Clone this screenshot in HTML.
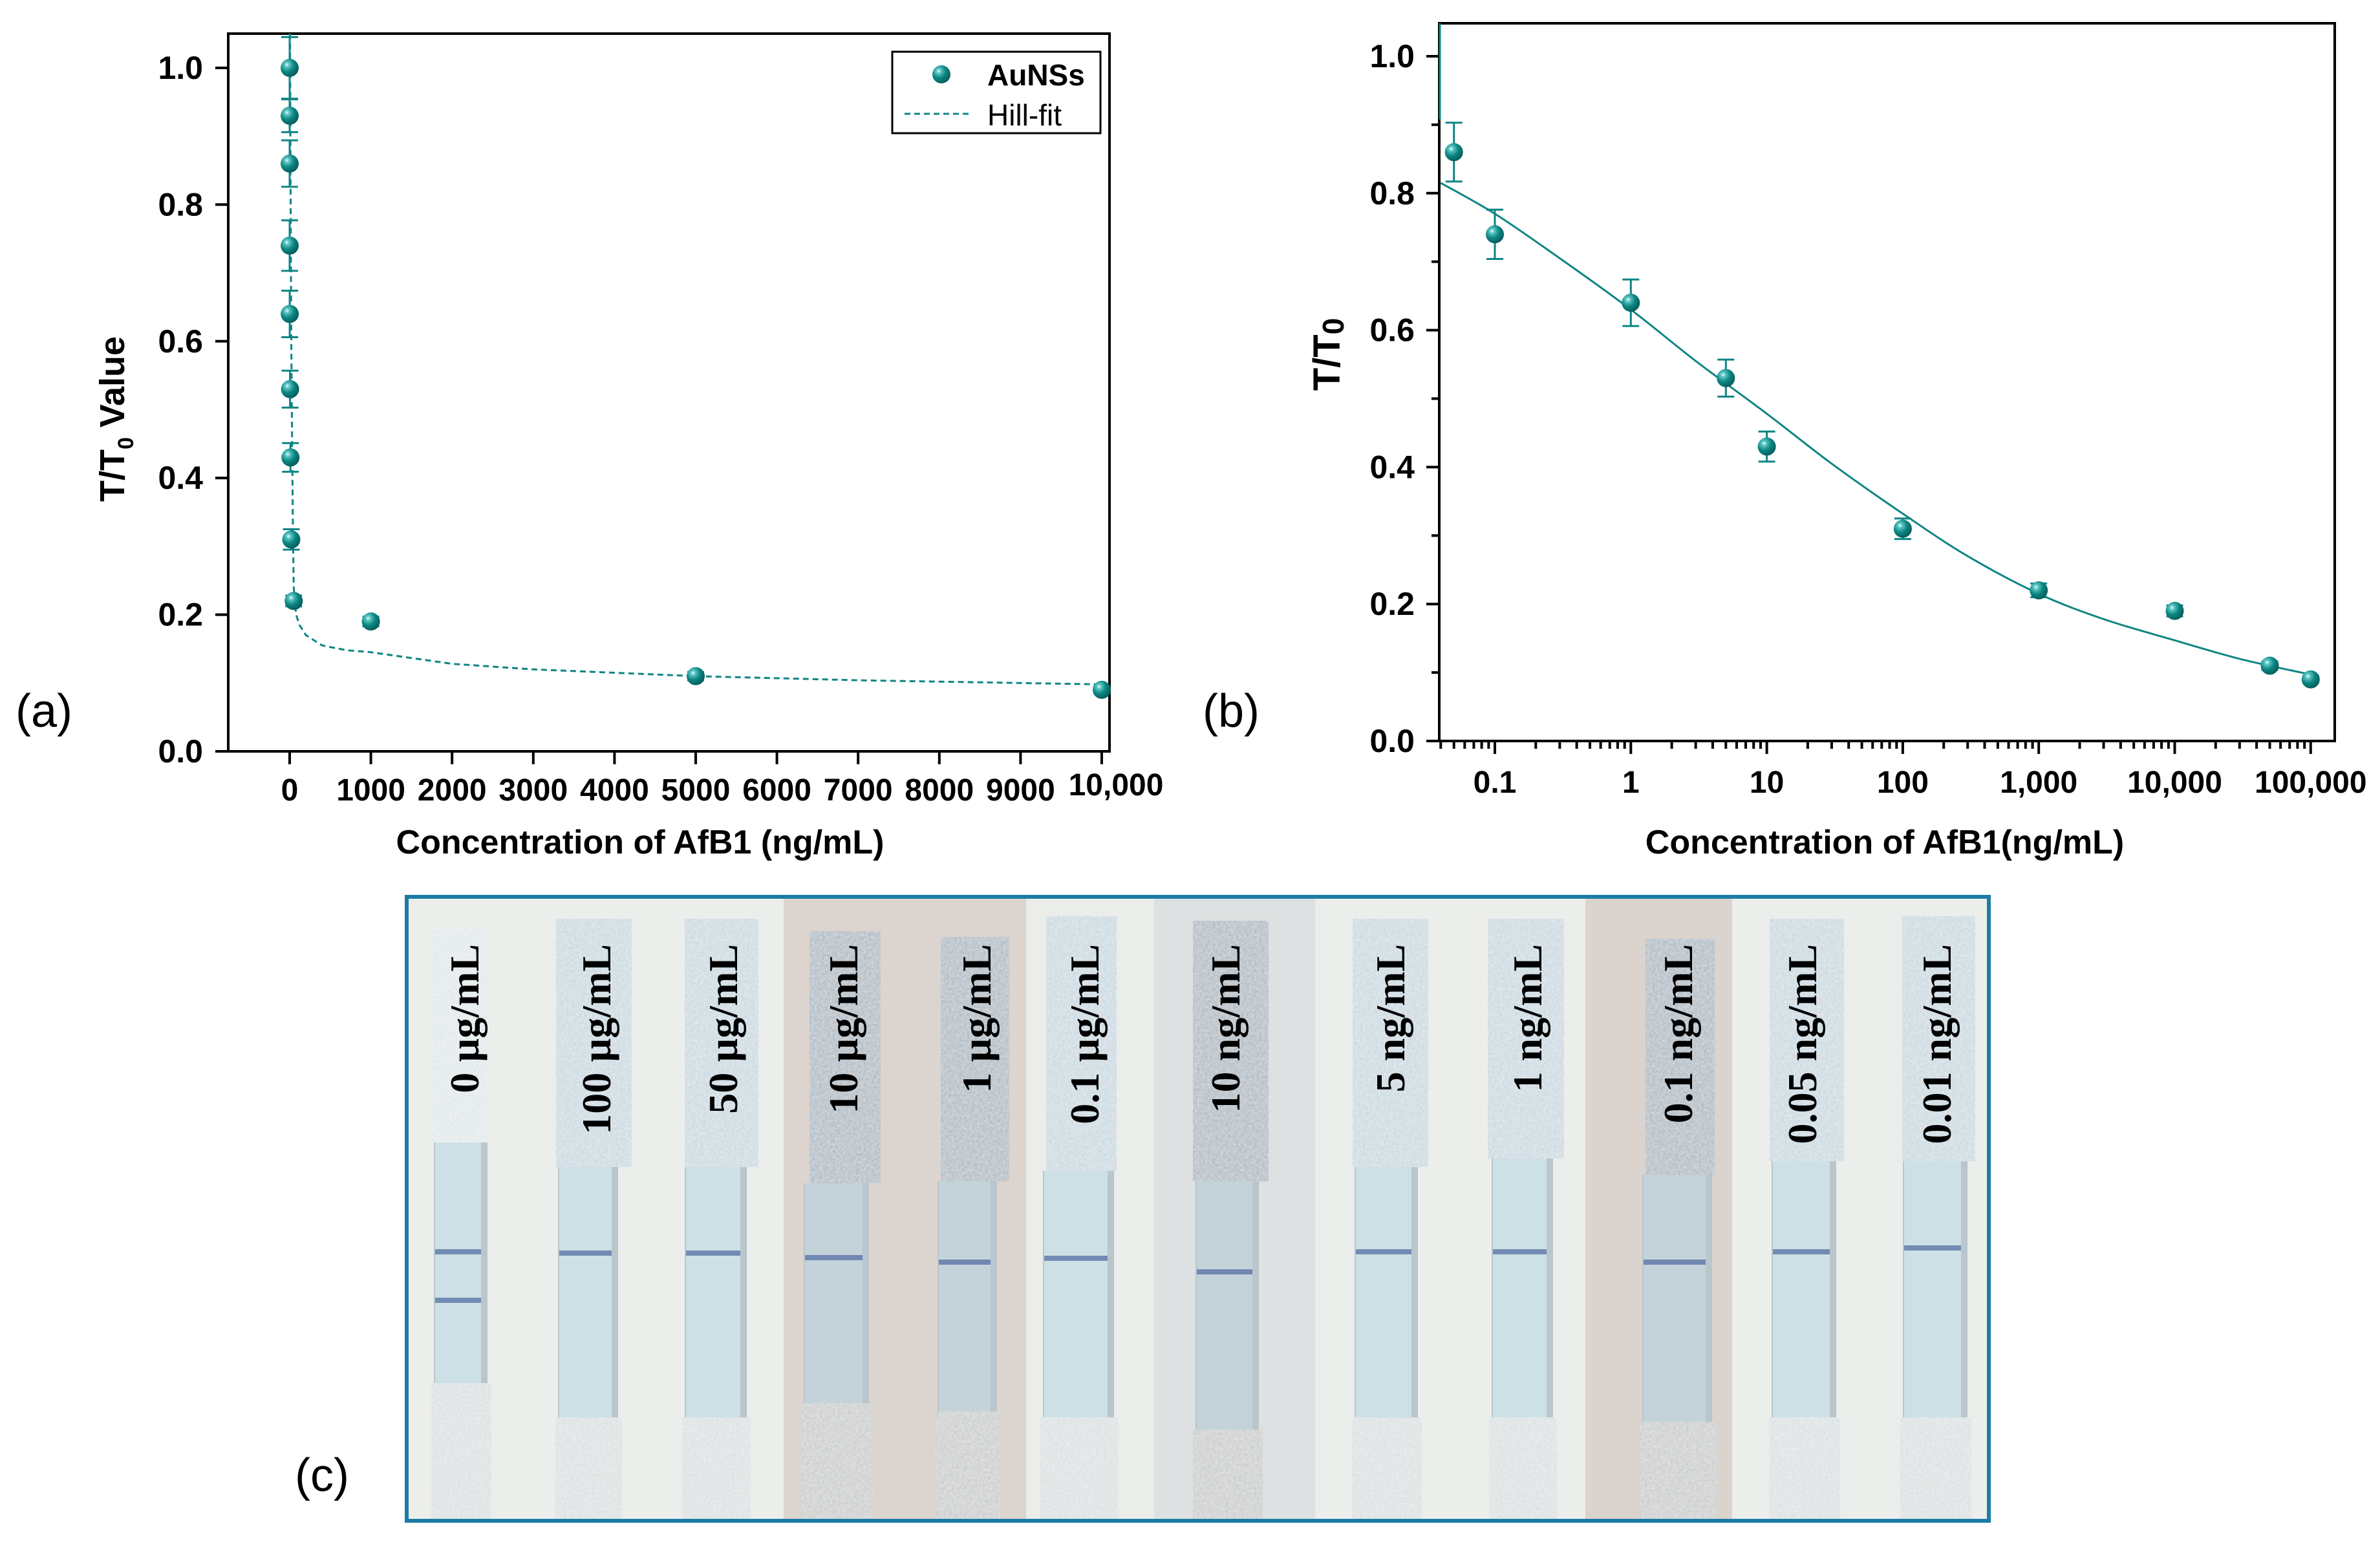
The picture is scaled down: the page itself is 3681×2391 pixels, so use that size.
<!DOCTYPE html>
<html><head><meta charset="utf-8"><style>
html,body{margin:0;padding:0;background:#fff;}
svg{display:block;}
text{font-family:"Liberation Sans",sans-serif;}
.serif{font-family:"Liberation Serif",serif;font-weight:bold;}
</style></head><body>
<svg id="fig" width="3681" height="2391" viewBox="0 0 3681 2391" xmlns="http://www.w3.org/2000/svg">
<defs>
<radialGradient id="ball" cx="0.35" cy="0.32" r="0.7">
<stop offset="0" stop-color="#e8ffff"/><stop offset="0.18" stop-color="#5cc6c4"/><stop offset="0.55" stop-color="#0d8683"/><stop offset="1" stop-color="#055d5b"/>
</radialGradient>
<filter id="tex" x="0" y="0" width="1" height="1">
<feTurbulence type="fractalNoise" baseFrequency="0.25" numOctaves="2" result="n"/>
<feColorMatrix in="n" type="matrix" values="0 0 0 0 1  0 0 0 0 1  0 0 0 0 1  0 0 0 0.5 0" result="w"/>
<feComposite in="w" in2="SourceGraphic" operator="in" result="wn"/>
<feBlend in="SourceGraphic" in2="wn" mode="screen"/>
</filter>
</defs>
<g id="panelA"></g>
<g id="panelB"></g>
<g id="panelC"></g>
</svg>
<script>
// ---------- Panel (a) data ----------
const concA = [0, 0.01, 0.05, 0.1, 1, 5, 10, 20, 50, 1000, 5000, 10000];
const ratioA = [1.0, 0.93, 0.86, 0.74, 0.64, 0.53, 0.43, 0.31, 0.22, 0.19, 0.11, 0.09];
const errA = [0.045, 0.024, 0.034, 0.037, 0.034, 0.027, 0.021, 0.015, 0.008, 0.007, 0.006, 0.005];
const fitAx = [5, 10, 20, 30, 40, 50, 80, 120, 200, 400, 700, 1000, 2000, 3000, 5000, 7000, 10000];
const fitAy = [1.05, 0.85, 0.6, 0.45, 0.33, 0.24, 0.2, 0.185, 0.17, 0.155, 0.148, 0.145, 0.128, 0.12, 0.11, 0.104, 0.098];
const xTicksA = [0, 1000, 2000, 3000, 4000, 5000, 6000, 7000, 8000, 9000, 10000];
const xTickLabelsA = ["0", "1000", "2000", "3000", "4000", "5000", "6000", "7000", "8000", "9000", "10,000"];
const yTicks = [0, 0.2, 0.4, 0.6, 0.8, 1.0];
const yTickLabels = ["0.0", "0.2", "0.4", "0.6", "0.8", "1.0"];
// ---------- Panel (b) data ----------
const concB = [0.05, 0.1, 1, 5, 10, 100, 1000, 10000, 50000, 100000];
const ratioB = [0.86, 0.74, 0.64, 0.53, 0.43, 0.31, 0.22, 0.19, 0.11, 0.09];
const errB = [0.043, 0.036, 0.034, 0.027, 0.022, 0.015, 0.01, 0.008, 0.006, 0.005];
const fitBx = [0.04, 0.1, 0.3, 1, 3, 10, 30, 100, 300, 1000, 3000, 10000, 30000, 100000];
const fitBy = [0.815, 0.77, 0.705, 0.63, 0.555, 0.478, 0.405, 0.332, 0.27, 0.215, 0.178, 0.147, 0.12, 0.097];
const xTicksB = [0.1, 1, 10, 100, 1000, 10000, 100000];
const xTickLabelsB = ["0.1", "1", "10", "100", "1,000", "10,000", "100,000"];
// ---------- Panel (c) labels ----------
const stripLabels = ["0 µg/mL","100 µg/mL","50 µg/mL","10 µg/mL","1 µg/mL","0.1 µg/mL","10 ng/mL","5 ng/mL","1 ng/mL","0.1 ng/mL","0.05 ng/mL","0.01 ng/mL"];

const NS = "http://www.w3.org/2000/svg";
function mk(parent, tag, attrs, txt){
  const e = document.createElementNS(NS, tag);
  for (const k in attrs) e.setAttribute(k, attrs[k]);
  if (txt !== undefined) e.textContent = txt;
  parent.appendChild(e);
  return e;
}
const TEAL = "#0e8584";

// ================= PANEL A =================
(function(){
  const g = document.getElementById('panelA');
  const L = 353, R = 1716, T = 52, B = 1162;
  const x0px = 448, x1px = 1704;
  const sx = v => x0px + (v / 10000) * (x1px - x0px);
  const sy = v => 1162 - v * 1057;
  yTicks.forEach((v, i) => {
    const t = mk(g, 'line', {x1: L - 20, x2: L, y1: sy(v), y2: sy(v), stroke: '#000', 'stroke-width': 4});
    
    
    const lb = mk(g, 'text', {x: 314, y: sy(v) + 17, 'text-anchor': 'end', 'font-size': 50, 'font-weight': 'bold'}, yTickLabels[i]);
    
    
  });
  xTicksA.forEach((v, i) => {
    const t = mk(g, 'line', {x1: sx(v), x2: sx(v), y1: B, y2: B + 20, stroke: '#000', 'stroke-width': 4});
    
    
    const lb = mk(g, 'text', {x: sx(v) + (i === 10 ? 22 : 0), y: 1238 - (i === 10 ? 8 : 0), 'text-anchor': 'middle', 'font-size': 48, 'font-weight': 'bold'}, xTickLabelsA[i]);
    
    
  });
  const fr = mk(g, 'rect', {x: L, y: T, width: R - L, height: B - T, fill: 'none', stroke: '#000', 'stroke-width': 4});
  
  
  let d = '';
  fitAx.forEach((v, i) => { d += (i ? 'L' : 'M') + sx(v).toFixed(1) + ' ' + sy(fitAy[i]).toFixed(1) + ' '; });
  const fit = mk(g, 'path', {d: d, fill: 'none', stroke: TEAL, 'stroke-width': 3, 'stroke-dasharray': '9 6'});
  
  
  const vl = mk(g, 'line', {x1: sx(0), x2: sx(0), y1: T, y2: sy(ratioA[0]), stroke: TEAL, 'stroke-width': 3});
  
  
  ratioA.forEach((v, i) => {
    const cx = sx(concA[i]);
    const e = errA[i];
    const eb = mk(g, 'path', {d: `M${cx} ${sy(v+e)}V${sy(v-e)}M${cx-13} ${sy(v+e)}h26M${cx-13} ${sy(v-e)}h26`, stroke: TEAL, 'stroke-width': 3, fill: 'none'});
    
    
    const c = mk(g, 'ellipse', {cx: cx, cy: sy(v), rx: 14, ry: 14, fill: 'url(#ball)'});
    
    
  });
  const lg = mk(g, 'g', {});
  
  
  mk(lg, 'rect', {x: 1380, y: 80, width: 322, height: 126, fill: '#fff', stroke: '#000', 'stroke-width': 3});
  const lm = mk(lg, 'ellipse', {cx: 1456, cy: 115, rx: 14, ry: 14, fill: 'url(#ball)'});
  
  
  const lt1 = mk(lg, 'text', {x: 1527, y: 132, 'font-size': 46, 'font-weight': 'bold'}, 'AuNSs');
  
  
  const ll = mk(lg, 'line', {x1: 1399, x2: 1504, y1: 176, y2: 176, stroke: TEAL, 'stroke-width': 3, 'stroke-dasharray': '9 6'});
  
  
  const lt2 = mk(lg, 'text', {x: 1527, y: 194, 'font-size': 46}, 'Hill-fit');
  
  
  const xt = mk(g, 'text', {x: 990, y: 1320, 'text-anchor': 'middle', 'font-size': 52, 'font-weight': 'bold'}, 'Concentration of AfB1 (ng/mL)');
  
  
  const yt = mk(g, 'text', {transform: 'translate(192 648) rotate(-90)', 'text-anchor': 'middle', 'font-size': 54, 'font-weight': 'bold'});
  
  
  mk(yt, 'tspan', {}, 'T/T');
  mk(yt, 'tspan', {'font-size': 34, dy: 14}, '0');
  mk(yt, 'tspan', {dy: -14}, ' Value');
  const pl = mk(g, 'text', {x: 24, y: 1124, 'font-size': 72}, '(a)');
  
  
})();

// ================= PANEL B =================
(function(){
  const g = document.getElementById('panelB');
  const L = 2226, R = 3611, T = 36, B = 1146;
  const dec = 210.3, x01 = 2312;
  const sx = v => x01 + (Math.log10(v) + 1) * dec;
  const sy = v => 1146 - v * 1059;
  for (let k = 0; k <= 10; k++) {
    const v = k / 10, major = k % 2 === 0;
    const t = mk(g, 'line', {x1: L - (major ? 20 : 12), x2: L, y1: sy(v), y2: sy(v), stroke: '#000', 'stroke-width': 4});
    
    
  }
  yTicks.forEach((v, i) => {
    const lb = mk(g, 'text', {x: 2188, y: sy(v) + 17, 'text-anchor': 'end', 'font-size': 50, 'font-weight': 'bold'}, yTickLabels[i]);
    
    
  });
  for (let e = -2; e <= 5; e++) {
    for (let m = 1; m <= 9; m++) {
      const v = m * Math.pow(10, e);
      const px = sx(v);
      if (px < L || px > R) continue;
      const t = mk(g, 'line', {x1: px, x2: px, y1: B, y2: B + (m === 1 ? 20 : 12), stroke: '#000', 'stroke-width': 4});
      
      
    }
  }
  xTicksB.forEach((v, i) => {
    const lb = mk(g, 'text', {x: sx(v), y: 1226, 'text-anchor': 'middle', 'font-size': 48, 'font-weight': 'bold'}, xTickLabelsB[i]);
    
    
  });
  const fr = mk(g, 'rect', {x: L, y: T, width: R - L, height: B - T, fill: 'none', stroke: '#000', 'stroke-width': 4});
  
  
  const vl = mk(g, 'line', {x1: L + 1, x2: L + 1, y1: T, y2: 185, stroke: TEAL, 'stroke-width': 3});
  
  
  const P = fitBx.map((v, i) => [sx(v), sy(fitBy[i])]);
  let d = `M${P[0][0].toFixed(1)} ${P[0][1].toFixed(1)}`;
  for (let i = 0; i < P.length - 1; i++) {
    const p0 = P[Math.max(0, i - 1)], p1 = P[i], p2 = P[i + 1], p3 = P[Math.min(P.length - 1, i + 2)];
    const c1 = [p1[0] + (p2[0] - p0[0]) / 6, p1[1] + (p2[1] - p0[1]) / 6];
    const c2 = [p2[0] - (p3[0] - p1[0]) / 6, p2[1] - (p3[1] - p1[1]) / 6];
    d += ` C${c1[0].toFixed(1)} ${c1[1].toFixed(1)} ${c2[0].toFixed(1)} ${c2[1].toFixed(1)} ${p2[0].toFixed(1)} ${p2[1].toFixed(1)}`;
  }
  const fit = mk(g, 'path', {d: d, fill: 'none', stroke: TEAL, 'stroke-width': 3});
  
  
  ratioB.forEach((v, i) => {
    const cx = sx(concB[i]);
    const e = errB[i];
    const eb = mk(g, 'path', {d: `M${cx} ${sy(v+e)}V${sy(v-e)}M${cx-13} ${sy(v+e)}h26M${cx-13} ${sy(v-e)}h26`, stroke: TEAL, 'stroke-width': 3, fill: 'none'});
    
    
    const c = mk(g, 'ellipse', {cx: cx, cy: sy(v), rx: 14, ry: 14, fill: 'url(#ball)'});
    
    
  });
  const xt = mk(g, 'text', {x: 2915, y: 1320, 'text-anchor': 'middle', 'font-size': 52, 'font-weight': 'bold'}, 'Concentration of AfB1(ng/mL)');
  
  
  const yt = mk(g, 'text', {transform: 'translate(2072 548) rotate(-90)', 'text-anchor': 'middle', 'font-size': 58, 'font-weight': 'bold'});
  
  
  mk(yt, 'tspan', {}, 'T/T');
  mk(yt, 'tspan', {'font-size': 46, dy: 6}, '0');
  const pl = mk(g, 'text', {x: 1860, y: 1124, 'font-size': 72}, '(b)');
  
  
})();

// ================= PANEL C =================
(function(){
  const g = document.getElementById('panelC');
  const bgs = [[629,1212,'#eceeec'],[1212,1587,'#dcd4ce'],[1587,1785,'#ebedeb'],[1785,2034,'#dde1e1'],[2034,2452,'#eceeec'],[2452,2679,'#dbd3cd'],[2679,3076,'#eceeec']];
  bgs.forEach(b => {
    const r = mk(g, 'rect', {x: b[0], y: 1386, width: b[1] - b[0], height: 966, fill: b[2]});
    
    
  });
  const geo = [
    [668,753,1436,1767,673,744,2139,1936,0,717],
    [860,977,1421,1805,865,946,2192,1938,0,921],
    [1059,1173,1421,1805,1061,1145,2192,1938,0,1117],
    [1252,1362,1440,1830,1245,1334,2170,1945,1,1303],
    [1455,1561,1449,1827,1452,1532,2183,1952,1,1509],
    [1618,1727,1417,1811,1615,1713,2192,1946,0,1676],
    [1845,1962,1424,1827,1851,1937,2211,1967,1,1894],
    [2092,2209,1421,1805,2097,2183,2192,1936,0,2149],
    [2301,2419,1421,1792,2309,2392,2192,1936,0,2361],
    [2545,2652,1452,1817,2542,2638,2199,1952,1,2594],
    [2737,2852,1421,1796,2742,2830,2192,1936,0,2786],
    [2942,3055,1417,1796,2945,3033,2192,1930,0,2994]
  ];
  geo.forEach((s, i) => {
    const sg = mk(g, 'g', {});
    
    
    mk(sg, 'rect', {x: s[4] - 2, y: s[3], width: s[5] - s[4] + 12, height: s[6] - s[3], fill: '#b9c6cb'});
    mk(sg, 'rect', {x: s[4], y: s[3], width: s[5] - s[4], height: s[6] - s[3], fill: s[8] ? '#c4d3da' : '#cde0e6'});
    mk(sg, 'rect', {x: s[4] - 6, y: s[6], width: s[5] - s[4] + 22, height: 2352 - s[6], fill: s[8] ? '#c6c8c8' : '#d8dedf', filter: 'url(#tex)'});
    mk(sg, 'rect', {x: s[0], y: s[2], width: s[1] - s[0], height: s[3] - s[2], fill: i === 0 ? '#dfe7e9' : (s[8] ? '#a8b4bd' : '#c6d6de'), filter: 'url(#tex)'});
    const cl = mk(sg, 'rect', {x: s[4], y: s[7] - 4, width: s[5] - s[4], height: 8, fill: '#5d76a8', opacity: 0.8});
    
    
    if (i === 0) {
      const tl = mk(sg, 'rect', {x: s[4], y: 2007, width: s[5] - s[4], height: 8, fill: '#5d76a8', opacity: 0.8});
      
      
    }
    const lb = mk(sg, 'text', {transform: `translate(${s[9] + 23} 1460) rotate(-90)`, 'text-anchor': 'end', 'font-size': 64, 'class': 'serif', fill: '#000'}, stripLabels[i]);
    
    
  });
  const bd = mk(g, 'rect', {x: 629, y: 1387, width: 2447, height: 965, fill: 'none', stroke: '#1a7ca6', 'stroke-width': 6});
  
  
  const pl = mk(g, 'text', {x: 456, y: 2306, 'font-size': 72}, '(c)');
  
  
})();
</script>
</body></html>
